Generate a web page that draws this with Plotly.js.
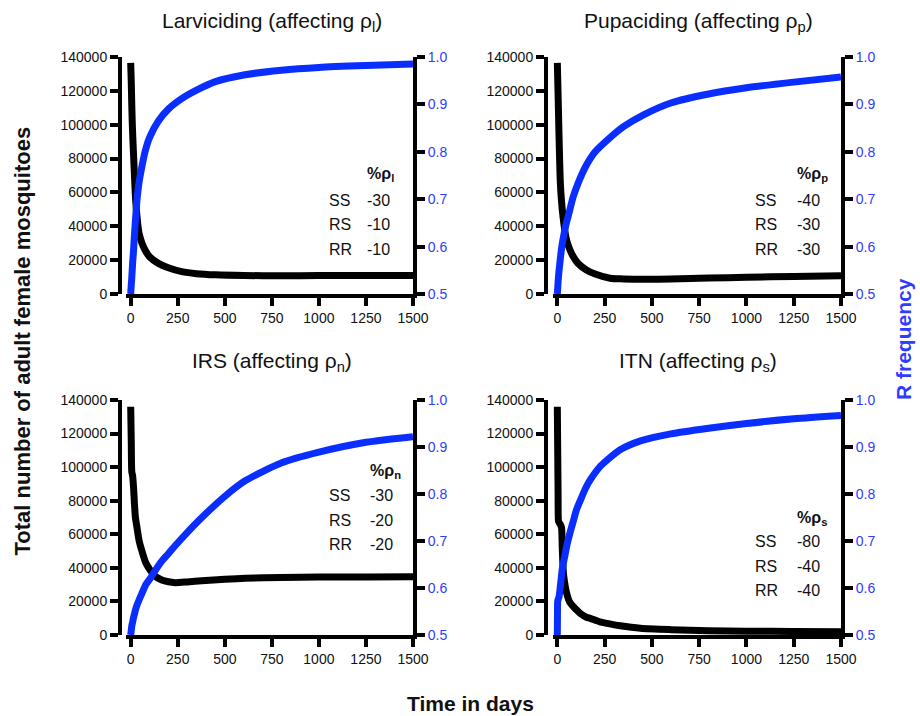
<!DOCTYPE html>
<html>
<head>
<meta charset="utf-8">
<script src="https://cdn.plot.ly/plotly-3.0.1.min.js"></script>
<style>html,body{margin:0;padding:0;background:#fff;}#chart{width:920px;height:716px;}</style>
</head>
<body>
<div id="chart"></div>
<script>
// ---- Data ----
const panelTitles = [
  "Larviciding (affecting ρ<sub>l</sub>)",
  "Pupaciding (affecting ρ<sub>p</sub>)",
  "IRS (affecting ρ<sub>n</sub>)",
  "ITN (affecting ρ<sub>s</sub>)"
];
const paramLabels = ["%ρ<sub>l</sub>", "%ρ<sub>p</sub>", "%ρ<sub>n</sub>", "%ρ<sub>s</sub>"];
const genotypes = ["SS", "RS", "RR"];
const pctA = ["-30", "-10", "-10"];
const pctB = ["-40", "-30", "-30"];
const pctC = ["-30", "-20", "-20"];
const pctD = ["-80", "-40", "-40"];

// Larviciding
const tA   = [0,3,5,8,11,14,20,26,35,44,60,76,100,147,200,271,350,450,600,800,1000,1250,1500];
const popA = [136500,125000,115000,102000,93000,85000,70000,56000,44000,36000,30000,26000,22000,18100,15500,13200,12000,11300,10900,10800,10900,11000,11000];
const rA   = [0.5,0.52,0.53,0.55,0.57,0.585,0.625,0.66,0.705,0.735,0.77,0.80,0.83,0.865,0.89,0.912,0.93,0.948,0.962,0.972,0.978,0.982,0.985];

// Pupaciding
const tB   = [0,4,8,12,16,22,30,45,60,84,110,154,200,279,350,456,600,800,1000,1250,1500];
const popB = [136500,118000,98000,80000,65500,55000,45700,33900,28000,22100,18000,14200,11800,9300,8900,8700,8900,9400,9900,10400,10800];
const rB   = [0.5,0.525,0.545,0.56,0.575,0.595,0.615,0.645,0.668,0.705,0.734,0.772,0.80,0.83,0.853,0.878,0.903,0.922,0.935,0.947,0.958];

// IRS
const tC   = [0,3,6,10,15,20,25,32,45,58,80,103,130,165,200,236,300,378,500,608,800,1000,1250,1500];
const popC = [136000,115000,97000,95000,88000,78000,70000,65000,56000,50600,43000,38700,35000,32800,31700,31200,31600,32300,33200,33800,34300,34500,34600,34700];
const rC   = [0.5,0.51,0.52,0.527,0.537,0.545,0.553,0.562,0.575,0.587,0.607,0.62,0.637,0.657,0.673,0.69,0.718,0.75,0.795,0.828,0.866,0.889,0.910,0.922];

// ITN
const tD   = [0,1,2,4,6,9,15,22,26,32,39,50,66,85,101,120,154,174,225,263,332,440,600,800,1000,1250,1500];
const popD = [136000,122000,110000,85000,68000,67000,66000,64000,52000,37000,31000,24700,19500,16900,15000,13000,10600,9900,7800,6900,5500,4000,3200,2600,2300,2100,2000];
const rD   = [0.5,0.56,0.572,0.575,0.578,0.581,0.60,0.626,0.64,0.653,0.667,0.69,0.716,0.743,0.766,0.785,0.816,0.83,0.858,0.872,0.894,0.913,0.928,0.940,0.950,0.960,0.967];

const xTicks = [0,250,500,750,1000,1250,1500];
const leftTicks = [0,20000,40000,60000,80000,100000,120000,140000];
const rightTicks = [0.5,0.6,0.7,0.8,0.9,1.0];

// ---- Styling / layout ----
const W = 920, H = 716;
const BLUE = "#0a2eff";
const BLUE_TXT = "#2f3cff";
const FONT = "Liberation Sans, Arial, Helvetica, sans-serif";
const px = v => v / W;
const py = v => 1 - v / H;

const panels = [
  {t: tA, pop: popA, r: rA, pct: pctA, xd: [126, 413], yd: [57, 294], yAxisX: 120, c1: 327, c2: 365, rows: [175, 200, 224, 249], title: [271.5, 22]},
  {t: tB, pop: popB, r: rB, pct: pctB, xd: [552.6, 841], yd: [57, 294], yAxisX: 546, c1: 753, c2: 795, rows: [175, 200, 224, 249], title: [698, 22]},
  {t: tC, pop: popC, r: rC, pct: pctC, xd: [126, 413], yd: [400, 635], yAxisX: 120, c1: 327, c2: 368, rows: [471.7, 495, 520, 544], title: [271.5, 362]},
  {t: tD, pop: popD, r: rD, pct: pctD, xd: [552.6, 841], yd: [400, 635], yAxisX: 546, c1: 753, c2: 795, rows: [518, 541.7, 566.7, 590.7], title: [698, 362]}
];

const traces = [];
const layout = {
  width: W, height: H,
  margin: {l: 0, r: 0, t: 0, b: 0},
  paper_bgcolor: "#fff", plot_bgcolor: "rgba(0,0,0,0)",
  showlegend: false,
  font: {family: FONT, color: "#000"},
  annotations: []
};

const axCommon = {
  showgrid: false, zeroline: false, showline: true,
  linecolor: "#000", linewidth: 4,
  ticks: "outside", ticklen: 8, tickwidth: 4, tickcolor: "#000",
  tickfont: {family: FONT, size: 14, color: "#111"}
};

panels.forEach((p, i) => {
  const n = i + 1;
  const xName = n === 1 ? "x" : "x" + n;
  const yL = n === 1 ? "y" : "y" + n;
  const yR = "y" + (n + 4);
  const xKey = n === 1 ? "xaxis" : "xaxis" + n;
  const yLKey = n === 1 ? "yaxis" : "yaxis" + n;
  const yRKey = "yaxis" + (n + 4);

  traces.push({x: p.t, y: p.pop, xaxis: xName, yaxis: yL, type: "scatter", mode: "lines",
               line: {color: "#000", width: 7, shape: "spline", smoothing: 0.7}, hoverinfo: "skip"});
  traces.push({x: p.t, y: p.r, xaxis: xName, yaxis: yR, type: "scatter", mode: "lines",
               line: {color: BLUE, width: 7, shape: "spline", smoothing: 0.7}, hoverinfo: "skip"});

  layout[xKey] = Object.assign({}, axCommon, {
    domain: [px(p.xd[0]), px(p.xd[1])], anchor: yL,
    range: [-25, 1500], tickmode: "array", tickvals: xTicks, ticktext: xTicks.map(String)
  });
  layout[yLKey] = Object.assign({}, axCommon, {
    domain: [py(p.yd[1]), py(p.yd[0])], anchor: "free", position: px(p.yAxisX),
    range: [0, 140000], tickmode: "array", tickvals: leftTicks, ticktext: leftTicks.map(String)
  });
  layout[yRKey] = Object.assign({}, axCommon, {
    overlaying: yL, side: "right", anchor: xName,
    range: [0.5, 1.0], tickmode: "array", tickvals: rightTicks, ticktext: rightTicks.map(v => v.toFixed(1)),
    tickfont: {family: FONT, size: 14, color: BLUE_TXT}
  });

  // panel title
  layout.annotations.push({text: panelTitles[i], xref: "paper", yref: "paper",
    x: px(p.title[0]), y: py(p.title[1]), xanchor: "center", yanchor: "middle",
    showarrow: false, font: {family: FONT, size: 21, color: "#111"}});
  // parameter header
  layout.annotations.push({text: paramLabels[i], xref: "paper", yref: "paper",
    x: px(p.c2), y: py(p.rows[0]), xanchor: "left", yanchor: "middle",
    showarrow: false, font: {family: FONT, size: 16, color: "#111", weight: "bold"}});
  genotypes.forEach((g, k) => {
    layout.annotations.push({text: g, xref: "paper", yref: "paper",
      x: px(p.c1), y: py(p.rows[k + 1]), xanchor: "left", yanchor: "middle",
      showarrow: false, font: {family: FONT, size: 16, color: "#111"}});
    layout.annotations.push({text: p.pct[k], xref: "paper", yref: "paper",
      x: px(p.c2), y: py(p.rows[k + 1]), xanchor: "left", yanchor: "middle",
      showarrow: false, font: {family: FONT, size: 16, color: "#111"}});
  });
});

// global axis titles
layout.annotations.push({text: "Total number of adult female mosquitoes", xref: "paper", yref: "paper",
  x: px(22), y: py(341.5), xanchor: "center", yanchor: "middle", textangle: -90,
  showarrow: false, font: {family: FONT, size: 22, color: "#111", weight: "bold"}});
layout.annotations.push({text: "R frequency", xref: "paper", yref: "paper",
  x: px(903), y: py(339), xanchor: "center", yanchor: "middle", textangle: -90,
  showarrow: false, font: {family: FONT, size: 21, color: BLUE_TXT, weight: "bold"}});
layout.annotations.push({text: "Time in days", xref: "paper", yref: "paper",
  x: px(470), y: py(703), xanchor: "center", yanchor: "middle",
  showarrow: false, font: {family: FONT, size: 21, color: "#111", weight: "bold"}});

Plotly.newPlot("chart", traces, layout, {staticPlot: true, displayModeBar: false});
</script>
</body>
</html>
